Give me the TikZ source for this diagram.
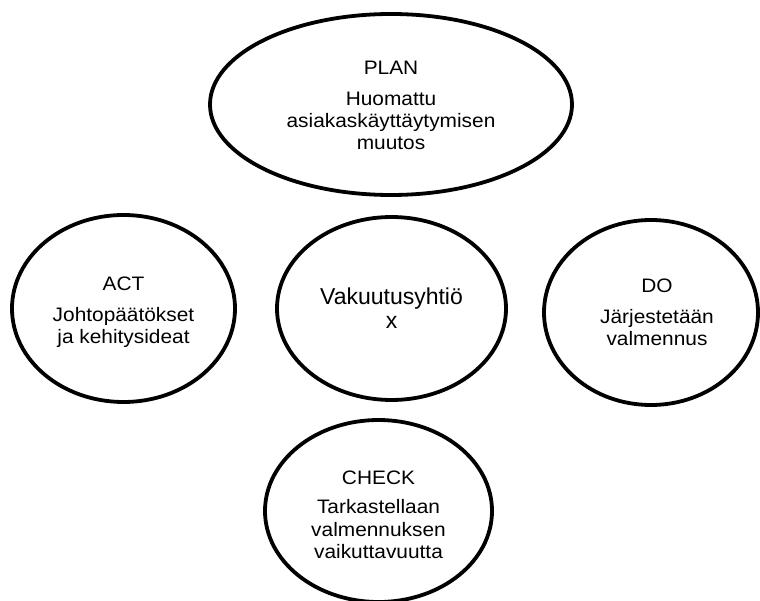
\documentclass[tikz,border=0pt]{standalone}
\usepackage{fontspec}
\setmainfont{Liberation Sans}
\newfontfamily\lblfont{Liberation Sans}[FakeStretch=1.07]
\usetikzlibrary{shapes.geometric}
\tikzset{
  oval/.style={ellipse, draw=black, line width=3.8pt, inner sep=0pt},
  ln/.style={anchor=base, inner sep=0pt, font=\lblfont\fontsize{19.5}{22.5}\selectfont},
  bigln/.style={anchor=base, inner sep=0pt, font=\fontsize{23}{24}\selectfont},
}
\begin{document}
\begin{tikzpicture}[x=1pt,y=-1pt]
\useasboundingbox[fill=white] (0,0) rectangle (760,601);
% ellipses
\node[oval, minimum width=362pt, minimum height=181pt] (plan) at (391,104.5) {};
\node[oval, minimum width=223pt, minimum height=187pt] (act) at (123.5,308.5) {};
\node[oval, minimum width=229pt, minimum height=183pt] (core) at (391.5,308.5) {};
\node[oval, minimum width=214pt, minimum height=185pt] (do) at (651,312.5) {};
\node[oval, minimum width=227pt, minimum height=182pt] (check) at (378.5,511) {};
% PLAN
\node[ln] (plan1) at (391,75) {PLAN};
\node[ln] (plan2) at (391,105.5) {Huomattu};
\node[ln] (plan3) at (391,128) {asiakaskäyttäytymisen};
\node[ln] (plan4) at (391,150) {muutos};
% ACT
\node[ln] (act1) at (123.5,291) {ACT};
\node[ln] (act2) at (123.5,322) {Johtopäätökset};
\node[ln] (act3) at (123.5,343.5) {ja kehitysideat};
% core
\node[bigln] (core1) at (391.5,305) {Vakuutusyhtiö};
\node[bigln] (core2) at (391.5,329) {x};
% DO
\node[ln] (do1) at (657,293) {DO};
\node[ln] (do2) at (657,324) {Järjestetään};
\node[ln] (do3) at (657,345.5) {valmennus};
% CHECK
\node[ln] (check1) at (378.5,484) {CHECK};
\node[ln] (check2) at (378.5,513.5) {Tarkastellaan};
\node[ln] (check3) at (378.5,536) {valmennuksen};
\node[ln] (check4) at (378.5,558) {vaikuttavuutta};
\end{tikzpicture}
\end{document}
